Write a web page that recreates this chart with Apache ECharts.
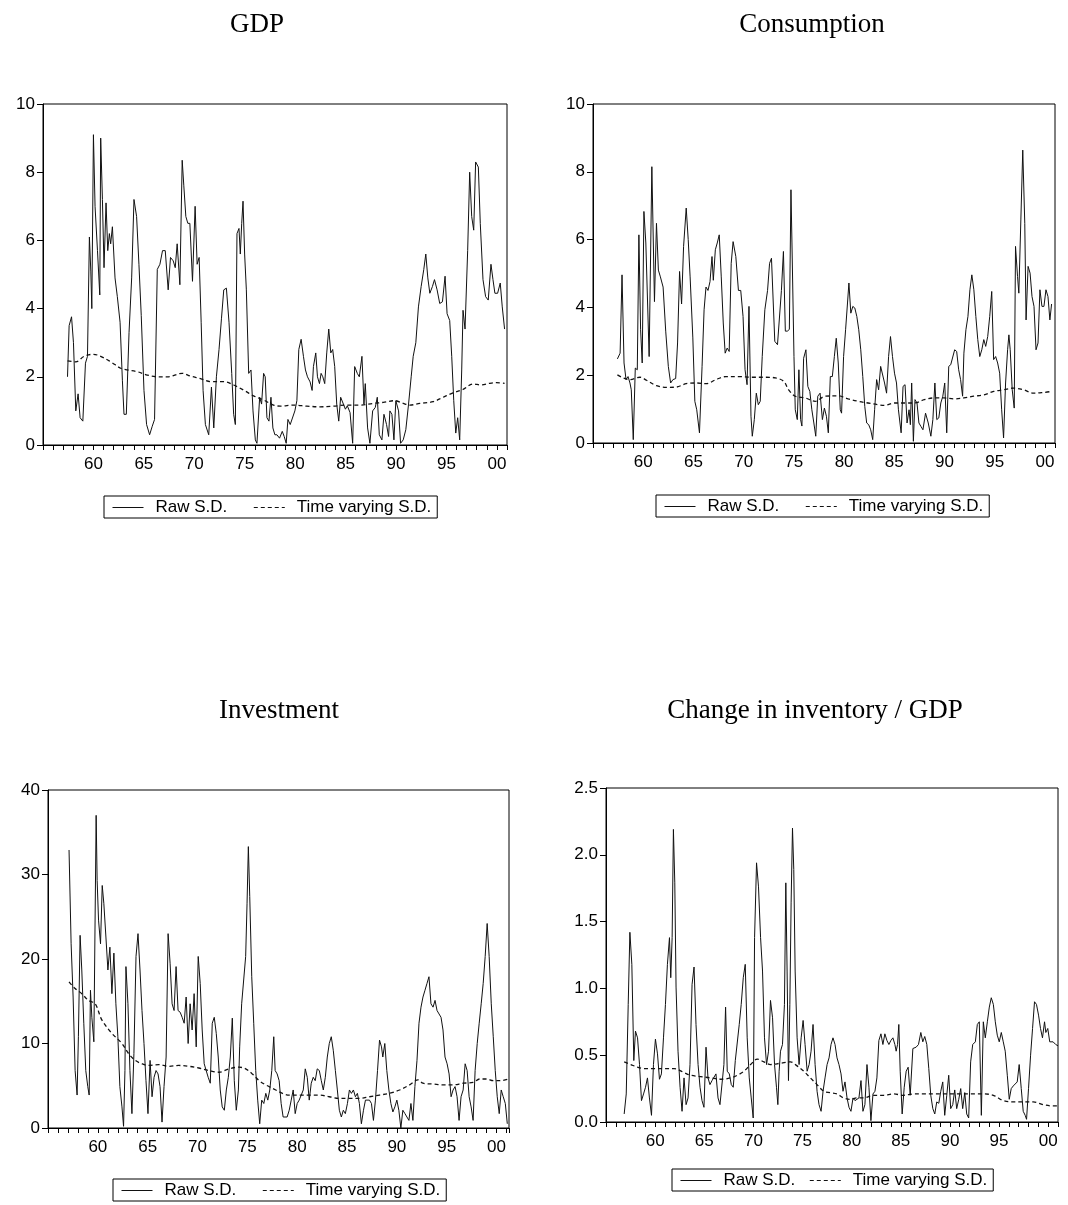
<!DOCTYPE html>
<html>
<head>
<meta charset="utf-8">
<title>Raw and time varying S.D.</title>
<script src="https://cdn.jsdelivr.net/npm/echarts@6/dist/echarts.min.js"></script>
<style>
  html, body { margin: 0; padding: 0; background: #fff; }
  #chart { width: 1068px; height: 1205px; }
</style>
</head>
<body>
<div id="chart"></div>
<script>
// Quarterly standard deviations: [decimal year, value]

const gdpRaw = [[1957.43,2.0],[1957.59,3.5],[1957.83,3.76],[1958.02,3.0],[1958.25,1.0],[1958.48,1.5],[1958.68,0.8],[1958.95,0.7],[1959.21,2.4],[1959.41,2.6],[1959.60,6.1],[1959.74,5.1],[1959.84,4.0],[1960.00,9.1],[1960.16,7.0],[1960.40,5.7],[1960.63,4.4],[1960.72,9.0],[1960.89,7.2],[1961.05,5.2],[1961.25,7.1],[1961.42,5.7],[1961.58,6.2],[1961.71,5.9],[1961.88,6.4],[1962.14,4.9],[1962.37,4.35],[1962.64,3.6],[1962.87,1.9],[1963.03,0.9],[1963.26,0.9],[1963.53,3.3],[1963.79,4.9],[1964.02,7.2],[1964.28,6.7],[1964.51,5.3],[1964.74,3.8],[1965.01,1.6],[1965.27,0.6],[1965.57,0.3],[1965.83,0.55],[1966.06,0.75],[1966.33,5.15],[1966.59,5.3],[1966.85,5.7],[1967.12,5.7],[1967.41,4.55],[1967.64,5.5],[1967.91,5.4],[1968.11,5.2],[1968.30,5.9],[1968.57,4.7],[1968.80,8.35],[1968.96,7.6],[1969.16,6.7],[1969.36,6.5],[1969.56,6.5],[1969.82,4.8],[1970.08,7.0],[1970.28,5.3],[1970.48,5.5],[1970.68,3.6],[1970.87,1.6],[1971.10,0.6],[1971.43,0.3],[1971.70,1.7],[1971.93,0.5],[1972.19,2.0],[1972.45,2.8],[1972.69,3.7],[1972.92,4.55],[1973.18,4.6],[1973.44,3.6],[1973.71,2.1],[1973.90,0.9],[1974.07,0.6],[1974.23,6.2],[1974.43,6.35],[1974.56,5.6],[1974.70,6.5],[1974.83,7.15],[1974.99,5.6],[1975.16,4.55],[1975.39,2.1],[1975.62,2.2],[1975.82,1.0],[1976.05,0.15],[1976.21,0.05],[1976.48,1.4],[1976.67,1.2],[1976.87,2.1],[1977.03,2.0],[1977.20,0.8],[1977.40,0.7],[1977.60,1.4],[1977.79,0.5],[1977.99,0.3],[1978.19,0.3],[1978.45,0.2],[1978.72,0.4],[1978.91,0.25],[1979.11,0.05],[1979.28,0.75],[1979.51,0.6],[1979.70,0.6],[1979.97,1.0],[1980.17,1.3],[1980.36,2.8],[1980.59,3.1],[1980.82,2.6],[1981.02,2.2],[1981.22,2.0],[1981.48,1.85],[1981.68,1.6],[1981.81,2.3],[1982.04,2.7],[1982.21,2.0],[1982.41,1.8],[1982.57,2.1],[1982.74,2.0],[1982.93,1.8],[1983.13,2.7],[1983.33,3.4],[1983.53,2.7],[1983.72,2.8],[1983.92,2.3],[1984.12,1.2],[1984.32,0.7],[1984.51,1.4],[1984.78,1.2],[1984.98,1.05],[1985.17,1.15],[1985.44,0.95],[1985.70,0.05],[1985.90,2.3],[1986.16,2.1],[1986.36,2.0],[1986.62,2.6],[1986.82,1.2],[1986.95,1.8],[1987.18,0.5],[1987.41,0.05],[1987.68,1.0],[1987.94,1.1],[1988.14,1.4],[1988.34,0.3],[1988.60,0.15],[1988.80,0.9],[1989.06,0.6],[1989.26,0.25],[1989.39,1.0],[1989.59,0.9],[1989.79,0.15],[1989.98,1.3],[1990.25,1.0],[1990.45,0.05],[1990.71,0.15],[1990.97,0.45],[1991.24,1.2],[1991.50,2.0],[1991.70,2.6],[1991.96,3.0],[1992.22,4.05],[1992.49,4.65],[1992.75,5.15],[1992.95,5.6],[1993.15,4.9],[1993.35,4.45],[1993.61,4.65],[1993.81,4.85],[1994.07,4.55],[1994.33,4.15],[1994.60,4.2],[1994.86,4.95],[1995.06,3.85],[1995.32,3.65],[1995.52,2.6],[1995.72,1.3],[1995.92,0.35],[1996.11,0.8],[1996.31,0.15],[1996.51,2.2],[1996.64,3.95],[1996.84,3.4],[1997.10,5.7],[1997.30,8.0],[1997.50,6.7],[1997.70,6.3],[1997.89,8.3],[1998.16,8.15],[1998.35,6.5],[1998.62,4.85],[1998.88,4.35],[1999.14,4.25],[1999.41,5.3],[1999.61,4.85],[1999.80,4.45],[2000.07,4.45],[2000.33,4.75],[2000.53,4.05],[2000.76,3.4]];

const gdpTV = [[1957.43,2.47],[1958.25,2.44],[1959.08,2.6],[1960.0,2.66],[1960.72,2.6],[1961.71,2.44],[1962.70,2.25],[1963.36,2.2],[1964.35,2.15],[1965.34,2.05],[1966.33,2.0],[1967.31,2.0],[1968.80,2.1],[1969.62,2.02],[1970.61,1.95],[1971.60,1.86],[1972.92,1.86],[1973.90,1.76],[1974.89,1.61],[1975.88,1.44],[1976.87,1.32],[1977.86,1.17],[1978.52,1.14],[1979.84,1.17],[1981.15,1.14],[1982.47,1.12],[1983.79,1.14],[1985.11,1.17],[1986.43,1.17],[1987.74,1.22],[1988.73,1.25],[1989.89,1.3],[1990.71,1.22],[1991.37,1.17],[1992.36,1.22],[1993.67,1.27],[1994.66,1.4],[1995.65,1.53],[1996.64,1.63],[1997.63,1.79],[1998.45,1.76],[1999.28,1.81],[1999.94,1.83],[2000.76,1.81]];

const consRaw = [[1957.43,2.48],[1957.70,2.65],[1957.89,4.96],[1958.09,2.36],[1958.29,1.87],[1958.49,1.96],[1958.68,1.77],[1958.81,1.57],[1959.01,0.1],[1959.21,2.21],[1959.41,2.16],[1959.57,6.14],[1959.74,3.34],[1959.90,2.36],[1960.07,6.83],[1960.26,5.9],[1960.59,2.55],[1960.86,8.15],[1961.12,4.17],[1961.32,6.48],[1961.51,5.1],[1961.71,4.9],[1961.98,4.6],[1962.24,3.3],[1962.50,2.26],[1962.73,1.77],[1962.96,1.87],[1963.23,1.9],[1963.42,2.95],[1963.62,5.06],[1963.82,4.1],[1964.02,5.8],[1964.28,6.93],[1964.48,6.0],[1964.67,4.9],[1964.94,3.1],[1965.14,1.23],[1965.33,0.98],[1965.60,0.3],[1965.86,2.26],[1966.06,3.93],[1966.25,4.6],[1966.45,4.5],[1966.65,4.76],[1966.85,5.5],[1966.98,4.8],[1967.18,5.7],[1967.37,5.9],[1967.57,6.14],[1967.77,4.9],[1967.97,3.54],[1968.16,2.65],[1968.36,2.8],[1968.56,2.7],[1968.76,5.3],[1968.95,5.94],[1969.22,5.5],[1969.48,4.5],[1969.71,4.5],[1969.94,3.73],[1970.14,2.16],[1970.34,1.72],[1970.53,4.03],[1970.73,0.79],[1970.86,0.2],[1971.06,0.69],[1971.26,1.47],[1971.46,1.13],[1971.65,1.23],[1971.85,2.55],[1972.11,3.93],[1972.38,4.5],[1972.58,5.3],[1972.77,5.45],[1973.10,3.0],[1973.37,2.9],[1973.56,2.85],[1973.76,4.5],[1973.96,5.65],[1974.15,3.3],[1974.35,3.3],[1974.55,3.35],[1974.71,7.47],[1974.81,5.9],[1975.01,2.55],[1975.14,0.98],[1975.34,0.69],[1975.50,2.16],[1975.67,0.69],[1975.80,0.5],[1975.97,2.5],[1976.20,2.75],[1976.39,1.67],[1976.59,1.52],[1976.79,0.98],[1976.99,0.59],[1977.18,0.2],[1977.38,1.38],[1977.61,1.47],[1977.84,0.69],[1978.04,1.03],[1978.24,0.79],[1978.43,0.3],[1978.63,1.96],[1978.83,1.96],[1979.03,2.55],[1979.22,3.09],[1979.42,2.36],[1979.62,0.98],[1979.75,0.88],[1979.95,2.55],[1980.15,3.34],[1980.34,4.13],[1980.48,4.72],[1980.67,3.83],[1980.87,4.03],[1981.07,3.98],[1981.27,3.73],[1981.46,3.34],[1981.66,2.75],[1981.86,1.96],[1982.06,1.08],[1982.25,0.59],[1982.45,0.54],[1982.65,0.39],[1982.85,0.1],[1983.04,0.98],[1983.24,1.87],[1983.44,1.57],[1983.64,2.26],[1983.83,2.21],[1984.03,1.77],[1984.23,1.47],[1984.43,2.55],[1984.62,3.14],[1984.82,2.55],[1985.02,2.06],[1985.22,1.77],[1985.41,0.98],[1985.68,0.3],[1985.87,1.67],[1986.07,1.72],[1986.27,0.59],[1986.47,0.98],[1986.60,0.54],[1986.73,1.77],[1986.90,0.05],[1987.06,1.28],[1987.26,1.18],[1987.45,0.59],[1987.65,0.49],[1987.85,0.39],[1988.11,0.88],[1988.38,0.59],[1988.64,0.2],[1988.84,0.69],[1989.04,1.77],[1989.23,0.69],[1989.43,0.74],[1989.63,1.18],[1989.83,1.38],[1990.02,1.77],[1990.22,0.3],[1990.42,2.26],[1990.62,2.31],[1990.81,2.36],[1991.01,2.75],[1991.21,2.7],[1991.41,2.16],[1991.60,1.87],[1991.80,1.38],[1991.93,2.65],[1992.13,3.34],[1992.33,3.73],[1992.53,4.52],[1992.72,4.96],[1992.92,4.52],[1993.12,3.73],[1993.31,3.05],[1993.51,2.55],[1993.71,2.75],[1993.91,3.05],[1994.10,2.85],[1994.30,3.14],[1994.50,3.73],[1994.70,4.47],[1994.89,2.46],[1995.09,2.55],[1995.29,2.36],[1995.49,2.06],[1995.69,0.98],[1995.88,0.15],[1996.08,1.77],[1996.28,2.75],[1996.41,3.19],[1996.54,2.75],[1996.74,1.57],[1996.94,1.03],[1997.07,5.8],[1997.27,4.91],[1997.40,4.42],[1997.60,6.58],[1997.79,8.64],[1997.99,6.48],[1998.12,3.63],[1998.32,5.21],[1998.52,5.01],[1998.71,4.32],[1998.91,4.03],[1999.11,2.75],[1999.31,2.95],[1999.50,4.52],[1999.70,4.03],[1999.90,4.03],[2000.10,4.52],[2000.30,4.32],[2000.49,3.63],[2000.66,4.1]];

const consTV = [[1957.43,2.01],[1958.02,1.92],[1958.68,1.87],[1959.67,1.94],[1960.33,1.85],[1961.32,1.69],[1962.30,1.64],[1963.29,1.65],[1964.28,1.75],[1965.27,1.77],[1966.25,1.75],[1967.24,1.87],[1968.23,1.96],[1969.55,1.96],[1970.86,1.94],[1972.18,1.94],[1973.17,1.92],[1973.99,1.82],[1974.48,1.57],[1975.14,1.38],[1976.13,1.33],[1977.12,1.23],[1978.11,1.38],[1979.42,1.39],[1980.41,1.30],[1981.40,1.23],[1982.38,1.18],[1983.37,1.13],[1984.03,1.11],[1985.02,1.18],[1986.01,1.18],[1986.99,1.18],[1987.98,1.28],[1988.97,1.33],[1989.96,1.33],[1990.94,1.30],[1991.93,1.33],[1992.92,1.38],[1993.91,1.42],[1994.89,1.52],[1995.88,1.57],[1996.87,1.62],[1997.86,1.57],[1998.84,1.47],[1999.83,1.49],[2000.66,1.52]];

const invRaw = [[1957.11,32.9],[1957.32,21.8],[1957.52,15.5],[1957.72,6.8],[1957.92,3.9],[1958.05,10.8],[1958.22,22.8],[1958.39,18.7],[1958.59,12.4],[1958.79,6.8],[1958.99,4.9],[1959.13,3.9],[1959.26,16.3],[1959.40,13.1],[1959.60,10.2],[1959.83,37.0],[1959.93,29.3],[1960.07,24.6],[1960.27,21.8],[1960.44,28.7],[1960.60,26.6],[1960.81,22.6],[1961.01,18.7],[1961.21,21.4],[1961.41,15.9],[1961.61,20.7],[1961.81,14.7],[1962.01,10.8],[1962.21,4.9],[1962.42,2.5],[1962.58,0.2],[1962.72,6.8],[1962.82,19.1],[1963.02,14.7],[1963.22,6.8],[1963.42,1.7],[1963.62,8.8],[1963.83,20.3],[1964.03,23.0],[1964.23,18.7],[1964.43,13.9],[1964.63,10.0],[1964.83,5.6],[1965.03,1.7],[1965.24,8.0],[1965.44,3.7],[1965.64,6.0],[1965.84,6.8],[1966.04,6.4],[1966.24,4.9],[1966.44,0.7],[1966.64,4.9],[1966.85,8.4],[1967.05,23.0],[1967.25,19.5],[1967.45,14.7],[1967.65,13.9],[1967.85,19.1],[1968.05,13.9],[1968.26,13.7],[1968.46,13.1],[1968.66,12.4],[1968.86,15.5],[1969.06,10.0],[1969.26,14.7],[1969.46,11.6],[1969.66,15.9],[1969.87,9.6],[1970.07,20.3],[1970.27,17.1],[1970.47,11.6],[1970.67,7.6],[1970.87,6.8],[1971.07,6.0],[1971.28,5.3],[1971.48,12.4],[1971.68,13.1],[1971.88,11.2],[1972.08,8.4],[1972.28,4.5],[1972.48,2.5],[1972.69,2.1],[1972.89,4.5],[1973.09,6.0],[1973.29,8.4],[1973.49,13.0],[1973.69,5.6],[1973.89,2.1],[1974.10,4.5],[1974.23,9.6],[1974.43,14.7],[1974.63,14.7],[1974.83,20.3],[1974.97,26.6],[1975.10,33.3],[1975.24,27.4],[1975.44,17.9],[1975.64,12.4],[1975.84,6.8],[1976.04,3.3],[1976.24,0.5],[1976.44,3.3],[1976.65,2.9],[1976.85,4.1],[1977.05,3.3],[1977.25,4.5],[1977.45,6.8],[1977.65,10.8],[1977.79,6.8],[1977.99,6.4],[1978.19,5.6],[1978.39,2.9],[1978.59,1.3],[1978.79,1.1],[1978.99,1.3],[1979.20,2.1],[1979.40,3.3],[1979.60,4.5],[1979.80,1.7],[1980.00,2.9],[1980.20,3.3],[1980.40,3.3],[1980.61,4.5],[1980.81,7.0],[1981.01,6.0],[1981.21,3.3],[1981.41,5.3],[1981.61,6.0],[1981.81,5.6],[1982.01,7.0],[1982.22,6.8],[1982.42,5.6],[1982.62,4.5],[1982.82,6.0],[1983.02,8.4],[1983.22,10.0],[1983.42,10.8],[1983.62,9.2],[1983.83,6.8],[1984.03,4.5],[1984.23,2.1],[1984.43,1.3],[1984.63,2.1],[1984.83,1.7],[1985.04,2.9],[1985.24,4.5],[1985.44,4.1],[1985.64,4.5],[1985.84,3.7],[1986.04,4.1],[1986.24,2.9],[1986.44,0.5],[1986.65,2.1],[1986.85,3.3],[1987.05,3.5],[1987.25,3.3],[1987.45,2.9],[1987.65,0.9],[1987.85,3.3],[1988.06,6.8],[1988.26,10.4],[1988.46,9.6],[1988.59,8.4],[1988.79,10.0],[1988.99,6.8],[1989.20,4.5],[1989.40,2.9],[1989.60,1.9],[1989.80,2.5],[1990.00,3.3],[1990.20,2.1],[1990.40,0.0],[1990.60,2.1],[1990.81,1.7],[1991.01,1.3],[1991.21,0.9],[1991.41,2.9],[1991.61,0.9],[1991.81,4.9],[1992.02,8.0],[1992.22,12.4],[1992.42,14.3],[1992.62,15.5],[1992.82,16.3],[1993.02,17.1],[1993.22,17.9],[1993.42,14.7],[1993.63,14.3],[1993.83,15.1],[1994.03,13.9],[1994.23,13.5],[1994.43,13.1],[1994.63,11.6],[1994.83,8.4],[1995.04,7.6],[1995.24,6.4],[1995.44,3.7],[1995.64,4.5],[1995.84,4.9],[1996.04,3.7],[1996.24,0.9],[1996.44,3.7],[1996.65,4.5],[1996.85,7.6],[1997.05,6.8],[1997.25,3.7],[1997.45,2.5],[1997.65,0.9],[1997.85,6.8],[1998.06,10.0],[1998.26,12.4],[1998.46,14.7],[1998.66,17.1],[1998.86,20.3],[1999.06,24.2],[1999.26,20.3],[1999.47,14.7],[1999.67,10.8],[1999.87,6.8],[2000.07,3.7],[2000.27,1.7],[2000.47,4.5],[2000.67,3.7],[2000.88,2.9],[2001.08,0.5]];

const invTV = [[1957.11,17.3],[1957.72,16.5],[1958.39,15.9],[1959.06,15.1],[1959.73,14.7],[1960.40,12.8],[1961.41,11.2],[1962.42,10.0],[1963.09,8.8],[1963.76,8.0],[1964.43,7.6],[1965.10,7.4],[1966.11,7.5],[1967.11,7.3],[1968.12,7.4],[1969.13,7.3],[1970.13,7.1],[1971.14,6.8],[1972.15,6.6],[1973.16,7.0],[1974.16,7.2],[1974.83,7.0],[1975.50,6.4],[1976.18,5.6],[1976.85,5.1],[1977.85,4.5],[1978.52,4.1],[1979.20,3.9],[1980.20,3.9],[1981.21,3.9],[1982.22,3.9],[1983.22,3.7],[1984.23,3.5],[1985.24,3.5],[1986.24,3.5],[1987.25,3.7],[1988.26,3.9],[1989.26,4.1],[1990.27,4.5],[1991.28,5.1],[1992.12,5.7],[1992.62,5.3],[1993.63,5.2],[1994.63,5.1],[1995.64,5.1],[1996.65,5.3],[1997.65,5.4],[1998.32,5.8],[1998.99,5.8],[1999.67,5.6],[2000.34,5.6],[2001.18,5.8]];

const stockRaw = [[1956.85,0.06],[1957.06,0.21],[1957.26,0.88],[1957.43,1.42],[1957.63,1.18],[1957.83,0.46],[1958.00,0.68],[1958.21,0.63],[1958.41,0.43],[1958.61,0.16],[1958.82,0.21],[1959.02,0.26],[1959.22,0.33],[1959.42,0.18],[1959.63,0.05],[1959.83,0.43],[1960.03,0.62],[1960.24,0.51],[1960.44,0.32],[1960.64,0.36],[1960.85,0.63],[1961.05,0.88],[1961.25,1.18],[1961.46,1.38],[1961.59,1.08],[1961.73,1.38],[1961.86,2.19],[1962.00,1.79],[1962.13,1.01],[1962.33,0.53],[1962.54,0.26],[1962.74,0.08],[1962.94,0.33],[1963.15,0.13],[1963.35,0.18],[1963.55,0.43],[1963.76,1.03],[1963.96,1.16],[1964.16,0.73],[1964.37,0.43],[1964.57,0.26],[1964.77,0.16],[1964.97,0.11],[1965.18,0.56],[1965.38,0.33],[1965.58,0.28],[1965.79,0.31],[1965.99,0.31],[1966.19,0.36],[1966.40,0.18],[1966.60,0.13],[1966.80,0.13],[1967.00,0.43],[1967.17,0.86],[1967.34,0.38],[1967.55,0.36],[1967.75,0.28],[1967.95,0.26],[1968.16,0.46],[1968.36,0.46],[1968.56,0.73],[1968.76,0.88],[1968.97,1.08],[1969.17,1.18],[1969.37,0.63],[1969.58,0.33],[1969.78,0.18],[1969.98,0.03],[1970.12,1.38],[1970.32,1.94],[1970.52,1.76],[1970.73,1.38],[1970.93,1.13],[1971.13,0.63],[1971.34,0.43],[1971.54,0.53],[1971.74,0.91],[1971.95,0.78],[1972.15,0.43],[1972.35,0.26],[1972.49,0.13],[1972.62,0.38],[1972.76,0.53],[1972.96,0.58],[1973.16,0.88],[1973.30,1.79],[1973.43,1.13],[1973.57,0.31],[1973.71,0.88],[1973.84,1.64],[1973.98,2.20],[1974.11,1.89],[1974.25,1.13],[1974.45,0.63],[1974.65,0.43],[1974.86,0.63],[1975.06,0.76],[1975.26,0.58],[1975.47,0.38],[1975.67,0.43],[1975.87,0.53],[1976.07,0.73],[1976.28,0.43],[1976.48,0.23],[1976.68,0.13],[1976.89,0.08],[1977.09,0.23],[1977.29,0.33],[1977.50,0.43],[1977.70,0.48],[1977.90,0.58],[1978.10,0.63],[1978.31,0.58],[1978.51,0.48],[1978.71,0.43],[1978.92,0.36],[1979.12,0.23],[1979.32,0.30],[1979.53,0.18],[1979.73,0.11],[1979.93,0.08],[1980.14,0.18],[1980.34,0.16],[1980.54,0.16],[1980.74,0.18],[1980.95,0.31],[1981.15,0.08],[1981.35,0.13],[1981.56,0.43],[1981.76,0.26],[1981.96,0.01],[1982.17,0.21],[1982.37,0.23],[1982.57,0.33],[1982.77,0.61],[1982.98,0.66],[1983.18,0.58],[1983.38,0.66],[1983.59,0.61],[1983.79,0.58],[1983.99,0.61],[1984.20,0.63],[1984.40,0.58],[1984.53,0.53],[1984.67,0.58],[1984.80,0.73],[1984.94,0.38],[1985.14,0.06],[1985.35,0.26],[1985.55,0.38],[1985.75,0.41],[1985.96,0.2],[1986.23,0.55],[1986.56,0.56],[1986.80,0.58],[1987.04,0.67],[1987.24,0.6],[1987.44,0.64],[1987.65,0.58],[1987.85,0.4],[1988.05,0.2],[1988.26,0.1],[1988.46,0.06],[1988.66,0.15],[1988.87,0.14],[1989.07,0.23],[1989.27,0.3],[1989.47,0.05],[1989.68,0.2],[1989.88,0.35],[1990.08,0.1],[1990.29,0.13],[1990.49,0.24],[1990.69,0.1],[1990.90,0.17],[1991.10,0.25],[1991.30,0.1],[1991.51,0.22],[1991.71,0.06],[1991.91,0.03],[1992.11,0.45],[1992.32,0.58],[1992.59,0.6],[1992.79,0.73],[1992.99,0.75],[1993.20,0.05],[1993.40,0.75],[1993.60,0.63],[1993.81,0.75],[1994.01,0.86],[1994.21,0.93],[1994.42,0.88],[1994.62,0.75],[1994.82,0.65],[1995.02,0.6],[1995.23,0.67],[1995.43,0.6],[1995.63,0.53],[1995.84,0.35],[1996.04,0.17],[1996.24,0.25],[1996.45,0.27],[1996.65,0.28],[1996.85,0.3],[1997.05,0.43],[1997.26,0.25],[1997.46,0.08],[1997.66,0.05],[1997.80,0.02],[1998.00,0.25],[1998.21,0.5],[1998.41,0.7],[1998.61,0.9],[1998.81,0.88],[1999.02,0.8],[1999.22,0.7],[1999.42,0.63],[1999.63,0.75],[1999.76,0.67],[1999.96,0.7],[2000.16,0.6],[2000.50,0.6],[2000.77,0.58],[2001.00,0.57]];

const stockTV = [[1956.85,0.45],[1957.53,0.43],[1958.21,0.41],[1958.88,0.40],[1959.90,0.40],[1960.91,0.40],[1961.93,0.40],[1962.94,0.37],[1963.62,0.35],[1964.64,0.34],[1965.65,0.33],[1966.67,0.32],[1967.68,0.33],[1968.36,0.35],[1969.04,0.38],[1969.71,0.43],[1970.39,0.47],[1971.07,0.45],[1971.74,0.43],[1972.76,0.44],[1973.77,0.45],[1974.45,0.42],[1975.13,0.38],[1975.80,0.33],[1976.48,0.28],[1977.16,0.23],[1977.83,0.22],[1978.51,0.21],[1979.19,0.18],[1979.86,0.17],[1980.54,0.18],[1981.22,0.18],[1982.23,0.20],[1983.25,0.20],[1984.26,0.21],[1985.28,0.20],[1986.29,0.21],[1987.31,0.21],[1988.32,0.21],[1989.34,0.21],[1990.35,0.21],[1991.37,0.21],[1992.38,0.21],[1993.40,0.21],[1994.42,0.20],[1995.43,0.16],[1996.45,0.15],[1997.46,0.15],[1998.48,0.15],[1999.49,0.13],[2000.51,0.12],[2001.00,0.12]];

const panelTitles = ['GDP', 'Consumption', 'Investment', 'Change in inventory / GDP'];
const seriesNames = ['Raw S.D.', 'Time varying S.D.'];
const yTicks = [
  { max: 10, step: 2, digits: 0 },
  { max: 10, step: 2, digits: 0 },
  { max: 40, step: 10, digits: 0 },
  { max: 2.5, step: 0.5, digits: 1 }
];
const panelData = [[gdpRaw, gdpTV], [consRaw, consTV], [invRaw, invTV], [stockRaw, stockTV]];

// Page layout of the four panels
const layout = [
  { grid: { left: 43, top: 104, width: 464, height: 341 }, xMax: 2001, title: [257, 25], legend: { left: 104, top: 496 }, gap: 26 },
  { grid: { left: 593, top: 104, width: 462, height: 339 }, xMax: 2001, title: [812, 25], legend: { left: 656, top: 495 }, gap: 26 },
  { grid: { left: 48, top: 790, width: 461, height: 338 }, xMax: 2001.25, title: [279, 711], legend: { left: 113, top: 1179 }, gap: 26 },
  { grid: { left: 606, top: 788, width: 452, height: 334 }, xMax: 2001, title: [815, 711], legend: { left: 672, top: 1169 }, gap: 14 }
];

const SANS = '"Liberation Sans", Arial, Helvetica, sans-serif';
const SERIF = '"Liberation Serif", "Times New Roman", serif';
const INK = '#000';

const grids = [], xAxes = [], yAxes = [], series = [], legends = [], graphics = [];

layout.forEach((L, i) => {
  grids.push(Object.assign({ show: true, borderColor: INK, borderWidth: 1, backgroundColor: 'transparent' }, L.grid));

  // one tick per year, labels every five years (two-digit)
  xAxes.push({
    type: 'value', gridIndex: i, min: 1955, max: L.xMax, interval: 1,
    axisLine: { show: true, lineStyle: { color: INK, width: 1 } },
    axisTick: { show: true, inside: false, length: 5, lineStyle: { color: INK, width: 1 } },
    axisLabel: {
      margin: 11, color: INK, fontFamily: SANS, fontSize: 17,
      formatter: v => (Number.isInteger(v) && v % 5 === 0 && v > 1955) ? String(v % 100).padStart(2, '0') : ''
    },
    splitLine: { show: false }
  });

  const Y = yTicks[i];
  yAxes.push({
    type: 'value', gridIndex: i, min: 0, max: Y.max, interval: Y.step,
    axisLine: { show: true, lineStyle: { color: INK, width: 1 } },
    axisTick: { show: true, inside: false, length: 6, lineStyle: { color: INK, width: 1 } },
    axisLabel: { margin: 8, color: INK, fontFamily: SANS, fontSize: 17, formatter: v => v.toFixed(Y.digits) },
    splitLine: { show: false }
  });

  const [raw, tv] = panelData[i];
  series.push({
    name: seriesNames[0], type: 'line', xAxisIndex: i, yAxisIndex: i, data: raw,
    symbol: 'none', showSymbol: false, silent: true,
    lineStyle: { color: '#111', width: 1 }, itemStyle: { color: '#111' }
  });
  series.push({
    name: seriesNames[1], type: 'line', xAxisIndex: i, yAxisIndex: i, data: tv,
    symbol: 'none', showSymbol: false, silent: true, smooth: 0.35,
    lineStyle: { color: '#111', width: 1.3, type: [4, 3] }, itemStyle: { color: '#111' }
  });

  // legend keys show only a thin line sample
  legends.push({
    show: true, left: L.legend.left, top: L.legend.top, orient: 'horizontal',
    data: seriesNames, selectedMode: false,
    borderColor: INK, borderWidth: 1, borderRadius: 0, padding: [3, 6, 2, 8],
    itemWidth: 31, itemHeight: 10, itemGap: L.gap,
    itemStyle: { opacity: 0, borderWidth: 0 },
    lineStyle: { width: 1 },
    textStyle: { color: INK, fontFamily: SANS, fontSize: 17, padding: [0, 0, 0, 7] }
  });

  graphics.push({
    type: 'text', x: L.title[0], y: L.title[1], silent: true,
    style: {
      text: panelTitles[i], font: '27px ' + SERIF, fill: INK,
      align: 'center', verticalAlign: 'middle', textAlign: 'center', textVerticalAlign: 'middle'
    }
  });
});

const chart = echarts.init(document.getElementById('chart'), null, { renderer: 'canvas' });
chart.setOption({
  backgroundColor: '#fff',
  animation: false,
  grid: grids,
  xAxis: xAxes,
  yAxis: yAxes,
  legend: legends,
  series: series,
  graphic: graphics
});
</script>
</body>
</html>
